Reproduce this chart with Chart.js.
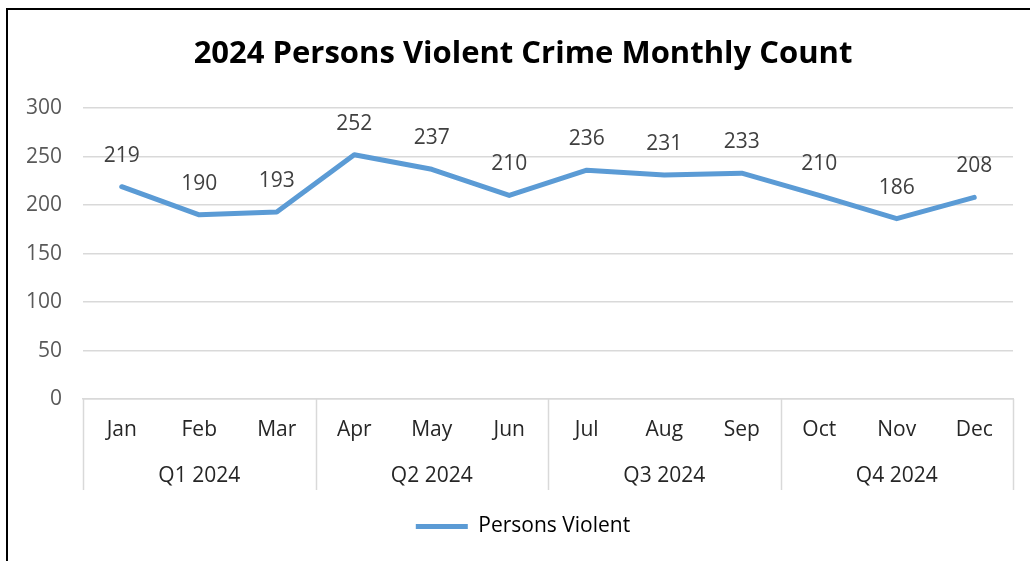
<!DOCTYPE html>
<html>
<head>
<meta charset="utf-8">
<script src="https://cdn.jsdelivr.net/npm/chart.js@4.4.1/dist/chart.umd.min.js"></script>
<style>
  html, body { margin: 0; padding: 0; background: #fff; overflow: hidden; width: 1030px; height: 561px; }
  #frame { position: absolute; left: 6px; top: 8px; width: 1100px; height: 600px; border: 2px solid #000; box-sizing: border-box; }
  #c { position: absolute; left: 0; top: 0; }
</style>
</head>
<body>
<div id="frame"></div>
<canvas id="c" width="1030" height="561"></canvas>
<script>
const months = ['Jan','Feb','Mar','Apr','May','Jun','Jul','Aug','Sep','Oct','Nov','Dec'];
const quarters = ['Q1 2024','Q2 2024','Q3 2024','Q4 2024'];
const monthsPerQuarter = 3;
const personsViolent = [219, 190, 193, 252, 237, 210, 236, 231, 233, 210, 186, 208];
const yTicks = [0, 50, 100, 150, 200, 250, 300];
const seriesName = 'Persons Violent';
const chartTitle = '2024 Persons Violent Crime Monthly Count';

const FONT = '"Open Sans", Lato, sans-serif';
const GRID = '#d9d9d9';
const LABEL_SIZE = 21;

const groupPlugin = {
  id: 'groupPlugin',
  afterDraw(chart) {
    const ctx = chart.ctx;
    const xs = chart.scales.x;
    const area = chart.chartArea;
    const bottom = 490;
    const half = (xs.getPixelForValue(1) - xs.getPixelForValue(0)) / 2;
    ctx.save();
    ctx.strokeStyle = GRID;
    ctx.lineWidth = 1.5;
    for (let q = 0; q <= quarters.length; q++) {
      const i = q * monthsPerQuarter;
      const x = i < months.length ? xs.getPixelForValue(i) - half : xs.getPixelForValue(months.length - 1) + half;
      ctx.beginPath();
      ctx.moveTo(Math.round(x) + 0.5, area.bottom);
      ctx.lineTo(Math.round(x) + 0.5, bottom);
      ctx.stroke();
    }
    ctx.fillStyle = '#262626';
    ctx.font = LABEL_SIZE + 'px ' + FONT;
    ctx.textAlign = 'center';
    ctx.textBaseline = 'middle';
    quarters.forEach((lab, q) => {
      const a = xs.getPixelForValue(q * monthsPerQuarter);
      const b = xs.getPixelForValue(q * monthsPerQuarter + monthsPerQuarter - 1);
      ctx.fillText(lab, (a + b) / 2, 476);
    });
    ctx.restore();
  },
  afterDatasetsDraw(chart) {
    const ctx = chart.ctx;
    const meta = chart.getDatasetMeta(0);
    ctx.save();
    ctx.fillStyle = '#404040';
    ctx.font = LABEL_SIZE + 'px ' + FONT;
    ctx.textAlign = 'center';
    ctx.textBaseline = 'middle';
    meta.data.forEach((pt, i) => {
      ctx.fillText(String(personsViolent[i]), pt.x, pt.y - 31);
    });
    ctx.restore();
  }
};

new Chart(document.getElementById('c'), {
  type: 'line',
  data: {
    labels: months,
    datasets: [{
      label: seriesName,
      data: personsViolent,
      borderColor: '#5b9bd5',
      backgroundColor: '#5b9bd5',
      borderWidth: 5,
      borderCapStyle: 'round',
      borderJoinStyle: 'round',
      pointRadius: 0,
      pointHoverRadius: 0,
      tension: 0,
      fill: false
    }]
  },
  options: {
    responsive: false,
    animation: false,
    events: [],
    layout: { padding: { left: 16, right: 0, top: 17, bottom: 14 } },
    plugins: {
      title: {
        display: true,
        text: chartTitle,
        color: '#000',
        font: { family: FONT, size: 31, weight: 'bold' },
        padding: { top: 19, bottom: 35 }
      },
      legend: {
        display: true,
        position: 'bottom',
        labels: {
          usePointStyle: true,
          pointStyle: 'line',
          pointStyleWidth: 52,
          color: '#000',
          font: { family: FONT, size: LABEL_SIZE },
          padding: 9
        }
      },
      tooltip: { enabled: false }
    },
    scales: {
      x: {
        type: 'category',
        offset: true,
        grid: { display: false, drawTicks: false },
        border: { display: true, color: GRID, width: 1.5 },
        ticks: { color: '#262626', font: { family: FONT, size: LABEL_SIZE }, padding: 18, maxRotation: 0, autoSkip: false },
        afterFit(scale) { scale.height = 108; }
      },
      y: {
        min: 0,
        max: 300,
        afterBuildTicks(scale) { scale.ticks = yTicks.map(v => ({ value: v })); },
        grid: { color: GRID, lineWidth: 1.5, drawTicks: false },
        border: { display: false },
        ticks: { color: '#595959', font: { family: FONT, size: LABEL_SIZE }, padding: 21 },
        afterFit(scale) { scale.width = 67; }
      },
      yRight: {
        position: 'right',
        min: 0,
        max: 300,
        grid: { display: false, drawTicks: false },
        border: { display: false },
        ticks: { display: false },
        afterFit(scale) { scale.width = 17; }
      }
    }
  },
  plugins: [groupPlugin]
});
</script>
</body>
</html>
